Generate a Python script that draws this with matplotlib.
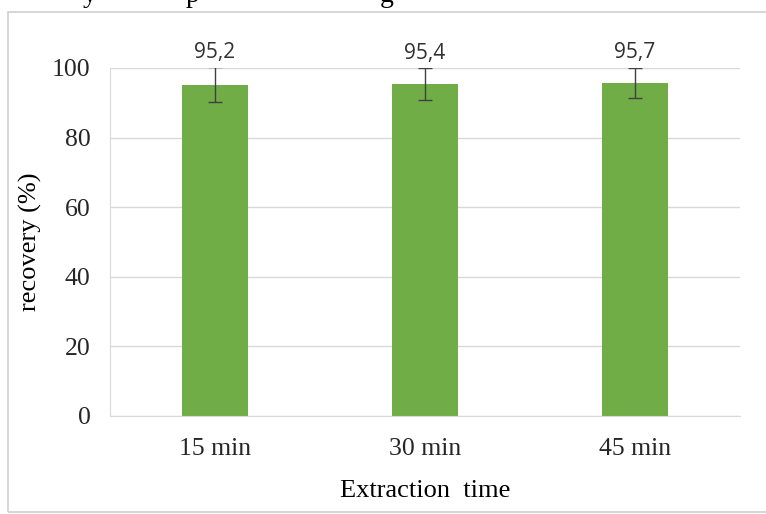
import matplotlib.pyplot as plt
import matplotlib.patches as patches
import numpy as np

# data
categories = ['15 min', '30 min', '45 min']
recovery = [95.2, 95.4, 95.7]
errors = [5.0, 4.6, 4.4]
labels = ['95,2', '95,4', '95,7']

fig = plt.figure(figsize=(7.66, 5.14), dpi=100)
ax = fig.add_axes([110/766, 1 - 416/514, 630/766, 348/514])

# outer frame of the chart area
fig.patches.append(patches.Rectangle((8/766, 2/514), 1.0, 500/514, transform=fig.transFigure,
                                     fill=False, edgecolor='#d0d0d0', linewidth=1.2))

x = np.arange(len(categories))
ax.bar(x, recovery, width=0.31, color='#70ad47', zorder=2)
ax.errorbar(x, recovery, yerr=errors, fmt='none', ecolor='#404040',
            elinewidth=1, capsize=5, capthick=1, zorder=3)

for xi, v, e, lab in zip(x, recovery, errors, labels):
    ax.text(xi, v + e + 1.2, lab, ha='center', va='bottom', fontsize=15,
            family='Open Sans', color='#303030')

ax.set_xlim(-0.5, 2.5)
ax.set_ylim(0, 100)
ax.set_yticks(range(0, 101, 20))
ax.set_xticks(x)
ax.set_xticklabels(categories)
ax.yaxis.grid(True, color='#d9d9d9', linewidth=1, zorder=0)
ax.set_axisbelow(True)

for s in ['top', 'right']:
    ax.spines[s].set_visible(False)
ax.spines['left'].set_color('#d9d9d9')
ax.spines['bottom'].set_color('#d9d9d9')
ax.tick_params(length=0, labelsize=18.5, colors='#262626')
ax.tick_params(axis='x', pad=16)
ax.tick_params(axis='y', pad=14)
for t in ax.get_xticklabels() + ax.get_yticklabels():
    t.set_family('Liberation Serif')

ax.set_ylabel('recovery (%)', family='Liberation Serif', fontsize=19, labelpad=7)
ax.set_xlabel('Extraction  time', family='Liberation Serif', fontsize=19, labelpad=14)

# clipped caption text at the very top (only the descenders show)
for xp, ch in [(90, 'y'), (193, 'p'), (387, 'g')]:
    fig.text(xp/766, 1 - 2/514, ch, family='Liberation Serif', fontsize=20,
             va='baseline', ha='center')

fig.savefig('out.png', dpi=100)
